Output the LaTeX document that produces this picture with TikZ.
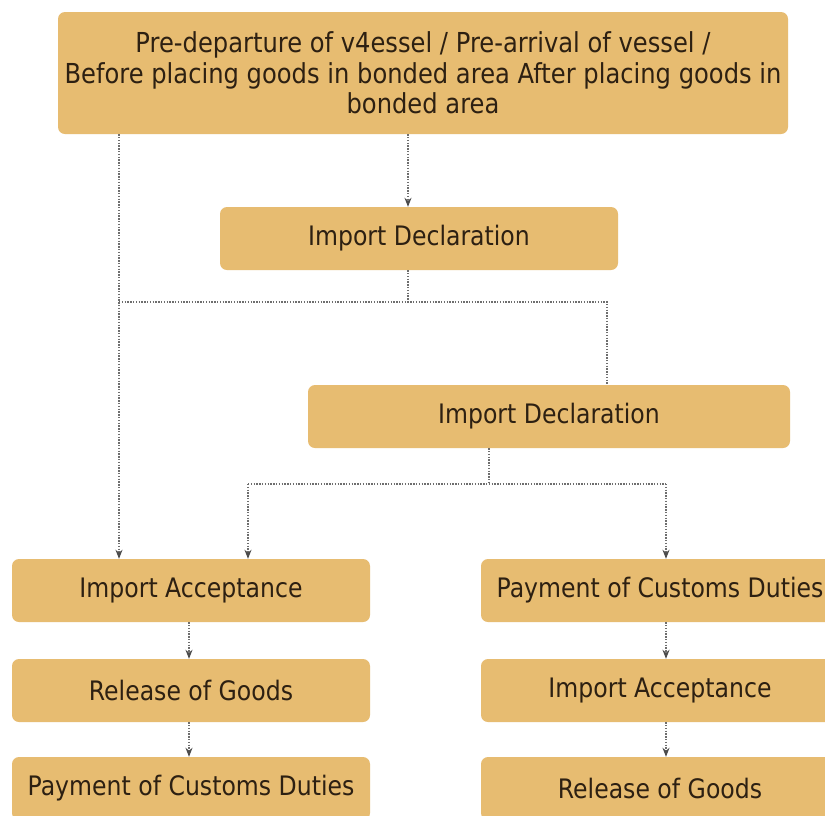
\documentclass[tikz,border=0pt]{standalone}
\usepackage{fontspec}
\setmainfont{DejaVu Sans}[FakeStretch=0.88]
\usetikzlibrary{arrows.meta}
\definecolor{boxfill}{RGB}{231,188,113}
\definecolor{boxtext}{RGB}{45,32,18}
\definecolor{linkgray}{RGB}{110,110,110}

\tikzset{
    box/.style={fill=boxfill, rounded corners=7pt, text=boxtext, align=center,
        minimum width=358pt, minimum height=63pt, inner sep=0pt,
        font=\fontsize{26.8}{30}\selectfont},
    link/.style={draw=linkgray, dash pattern=on 1.4pt off 1.4pt, line width=1.3pt},
    tip/.style={-{Stealth[length=9pt,width=7pt,color=black!70]}}
}

\begin{document}
\begin{tikzpicture}[x=1pt, y=-1pt]
    \clip (0,0) rectangle (825,815);
    \fill[white] (0,0) rectangle (825,815);

    \node[box, minimum width=730pt, minimum height=122pt,
        font=\fontsize{27.5}{30.5}\selectfont] (top) at (423,73)
        {Pre-departure of v4essel / Pre-arrival of vessel /\\
         Before placing goods in bonded area After placing goods in\\
         bonded area};
    \node[box, minimum width=398pt] (decl1) at (419,238.5) {Import Declaration};
    \node[box, minimum width=482pt] (decl2) at (549,416.5) {Import Declaration};

    \node[box] (accL) at (191,590.5) {Import Acceptance};
    \node[box] (relL) at (191,690.5) {Release of Goods};
    \node[box] (payL) at (191,788.5) {Payment of Customs Duties};

    \node[box] (payR) at (660,590.5) {Payment of Customs Duties};
    \node[box] (accR) at (660,690.5) {Import Acceptance};
    \node[box] (relR) at (660,788.5) {Release of Goods};

    \coordinate (jA) at (408,302);
    \coordinate (jL) at (119,302);
    \coordinate (jR) at (607,302);
    \coordinate (jB) at (489,484);
    \coordinate (kL) at (248,484);
    \coordinate (kR) at (666,484);
    \coordinate (cL) at (189,0);

    \draw[link, tip] (top.south -| jA) -- (decl1.north -| jA);
    \draw[link, tip] (top.south -| jL) -- (accL.north -| jL);
    \draw[link] (decl1.south -| jA) -- (jA);
    \draw[link] (jL) -- (jR) -- (decl2.north -| jR);
    \draw[link] (decl2.south -| jB) -- (jB);
    \draw[link] (kL) -- (kR);
    \draw[link, tip] (kL) -- (accL.north -| kL);
    \draw[link, tip] (kR) -- (payR.north -| kR);

    \draw[link, tip] (accL.south -| cL) -- (relL.north -| cL);
    \draw[link, tip] (relL.south -| cL) -- (payL.north -| cL);
    \draw[link, tip] (payR.south -| kR) -- (accR.north -| kR);
    \draw[link, tip] (accR.south -| kR) -- (relR.north -| kR);
\end{tikzpicture}
\end{document}
